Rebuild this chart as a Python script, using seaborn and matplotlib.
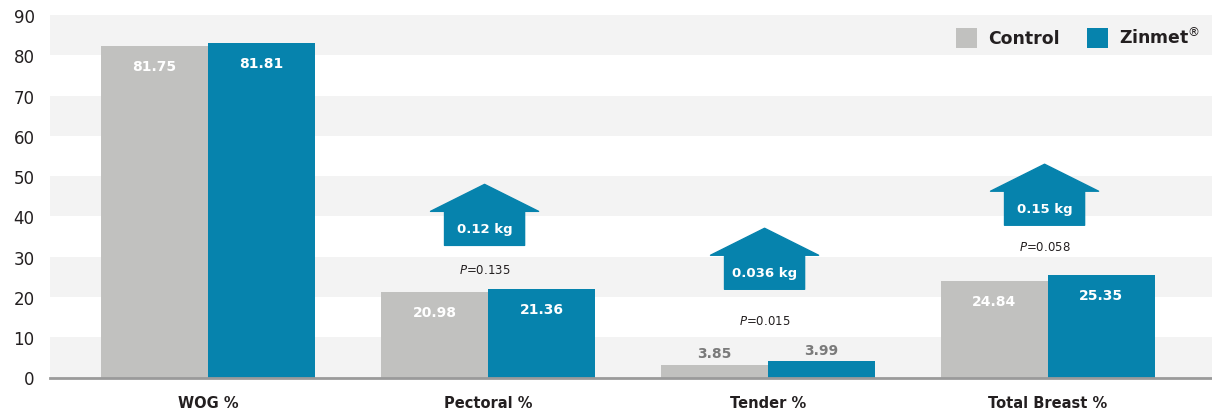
import pandas as pd
import matplotlib
matplotlib.use("Agg")
import matplotlib.pyplot as plt
from matplotlib.patches import Polygon
import seaborn as sns

# Chart data
categories = ["WOG %", "Pectoral %", "Tender %", "Total Breast %"]
groups = ["Control", "Zinmet$^{\\circledR}$"]
control = [82.3, 21.2, 3.1, 24.0]
zinmet = [83.1, 21.9, 4.0, 25.4]
control_labels = ["81.75", "20.98", "3.85", "24.84"]
zinmet_labels = ["81.81", "21.36", "3.99", "25.35"]
gain_labels = [None, "0.12 kg", "0.036 kg", "0.15 kg"]
p_values = [None, "0.135", "0.015", "0.058"]

# annotation placement (data units)
arrow_base = [None, 32.8, 21.9, 37.8]
p_text_y = [None, 26.9, 14.2, 32.6]

GRAY = "#c1c1bf"
TEAL = "#0683ad"
BAND = "#f3f3f3"
DARK = "#231f20"

sns.set_style("white")
plt.rcParams["font.family"] = ["DejaVu Sans"]

df = pd.DataFrame({
    "category": categories * 2,
    "value": control + zinmet,
    "group": [groups[0]] * len(categories) + [groups[1]] * len(categories),
})

fig = plt.figure(figsize=(12.12, 4.10), dpi=100)
ax = fig.add_axes([50 / 1212, 31.5 / 410, 1162 / 1212, 362.5 / 410])

# alternating background bands
for lo in range(0, 90, 20):
    ax.axhspan(lo, lo + 10, color=BAND, zorder=0, lw=0)

sns.barplot(data=df, x="category", y="value", hue="group",
            palette=[GRAY, TEAL], width=0.764, gap=0, saturation=1,
            linewidth=0, ax=ax, zorder=2)

ax.set_ylim(0, 90)
ax.set_xlim(-0.564, 3.586)
ax.set_yticks(range(0, 91, 10))
ax.set_xlabel("")
ax.set_ylabel("")
ax.tick_params(axis="y", length=0, pad=11, labelsize=12, labelcolor=DARK)
ax.tick_params(axis="x", length=0, pad=12.5, labelsize=10.5, labelcolor=DARK)
for t in ax.get_xticklabels():
    t.set_fontweight("bold")
for s in ["top", "left", "right"]:
    ax.spines[s].set_visible(False)
ax.spines["bottom"].set_color("#9a9a9a")
ax.spines["bottom"].set_linewidth(2)
ax.spines["bottom"].set_zorder(3)

# value labels
for cont, labels in zip(ax.containers, [control_labels, zinmet_labels]):
    for rect, lab in zip(cont, labels):
        cx = rect.get_x() + rect.get_width() / 2
        h = rect.get_height()
        if h > 10:
            ax.annotate(lab, (cx, h), xytext=(0, -14.5), textcoords="offset points",
                        ha="center", va="center", color="white",
                        fontweight="bold", fontsize=10, zorder=4)
        else:
            ax.annotate(lab, (cx, h), xytext=(0, 8.5), textcoords="offset points",
                        ha="center", va="center", color="#7a7a7a",
                        fontweight="bold", fontsize=10, zorder=4)

# gain arrows and P-values
half_w, half_body = 0.193, 0.143
body_h, head_h = 8.45, 6.7
for i, (gain, pv, base, py) in enumerate(zip(gain_labels, p_values, arrow_base, p_text_y)):
    if gain is None:
        continue
    cx = i - 0.012
    pts = [(cx - half_body, base), (cx + half_body, base),
           (cx + half_body, base + body_h), (cx + half_w, base + body_h),
           (cx, base + body_h + head_h), (cx - half_w, base + body_h),
           (cx - half_body, base + body_h)]
    ax.add_patch(Polygon(pts, closed=True, facecolor=TEAL, edgecolor=TEAL,
                         lw=1, joinstyle="round", zorder=3))
    ax.text(cx, base + body_h / 2, gain, ha="center", va="center",
            color="white", fontweight="bold", fontsize=9.5, zorder=4)
    ax.text(cx, py, "$P$=" + pv, ha="center", va="center",
            color=DARK, fontsize=8.5, zorder=4)

handles, labels = ax.get_legend_handles_labels()
ax.legend(handles, labels, loc="center right", bbox_to_anchor=(0.99, 0.939),
          ncol=2, frameon=False, borderpad=0, borderaxespad=0,
          handlelength=1.2, handleheight=1.4, handletextpad=0.65,
          columnspacing=1.6, prop={"weight": "bold", "size": 12.4},
          labelcolor=DARK)

fig.savefig("out.png", dpi=100)
